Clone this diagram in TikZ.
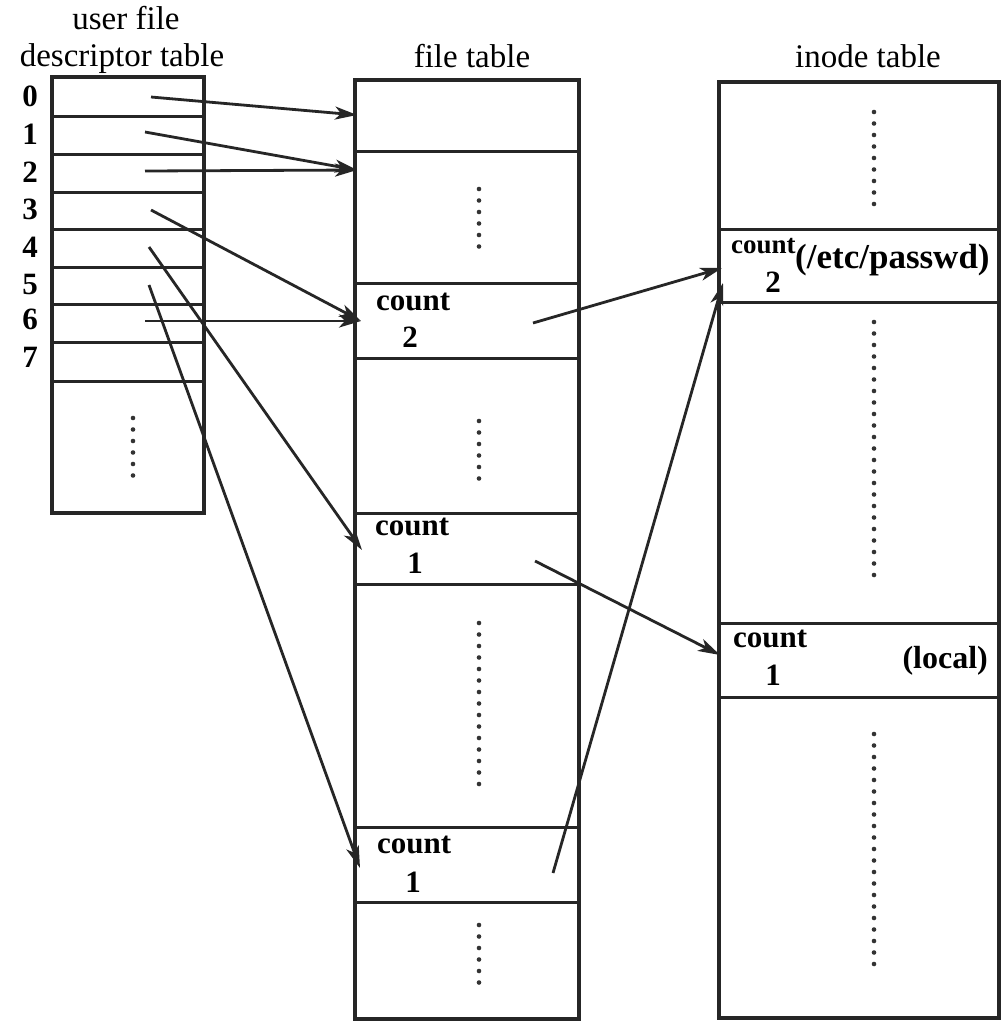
\documentclass[tikz,border=0pt]{standalone}
\usepackage{fontspec}
\setmainfont{Liberation Serif}
\usetikzlibrary{arrows.meta}
\tikzset{
  tbl/.style={line width=3.2pt, draw=black!85},
  sep/.style={line width=3pt, draw=black!85},
  dots/.style={line width=4.6pt, line cap=round, dash pattern=on 0pt off 11.5pt, draw=black!80},
  link/.style={line width=2.8pt, draw=black!85, -{Stealth[length=22pt,width=13pt,inset=6pt]}},
  ttl/.style={inner sep=0pt, anchor=base, font=\fontsize{33}{36}\selectfont},
  idx/.style={inner sep=0pt, font=\bfseries\fontsize{31}{34}\selectfont},
  cnt/.style={inner sep=0pt, anchor=base west, font=\bfseries\fontsize{31}{34}\selectfont},
  num/.style={inner sep=0pt, anchor=base, font=\bfseries\fontsize{31}{34}\selectfont},
}
\begin{document}
\begin{tikzpicture}[x=1pt,y=-1pt]
\useasboundingbox (0,0) rectangle (1001,1021);
\fill[white] (0,0) rectangle (1001,1021);

% titles
\node[ttl] (t1) at (126,29) {user file};
\node[ttl] (t2) at (122,66) {descriptor table};
\node[ttl] (t3) at (472,67) {file table};
\node[ttl] (t4) at (868,67) {inode table};

% user file descriptor table
\draw[tbl] (52,77) rectangle (204,513);
\foreach \y in {116,154,192,229,267,304,342,381} \draw[sep] (52,\y) -- (204,\y);
\draw[dots] (133,418) -- (133,478);
\foreach \i/\y in {0/96,1/134,2/172,3/209,4/247,5/284,6/319,7/357}
  \node[idx] (d\i) at (30,\y) {\i};

% file table
\draw[tbl] (355,80) rectangle (579,1019);
\foreach \y in {151,283,358,513,584,827,902} \draw[sep] (355,\y) -- (579,\y);
\draw[dots] (479,189) -- (479,247);
\draw[dots] (479,421) -- (479,479);
\draw[dots] (479,623) -- (479,795);
\draw[dots] (479,925) -- (479,983);
\node[cnt] (fc2) at (376,310) {count};
\node[num] (fn2) at (410,347) {2};
\node[cnt] (fc1a) at (375,535) {count};
\node[num] (fn1a) at (415,573) {1};
\node[cnt] (fc1b) at (377,853) {count};
\node[num] (fn1b) at (413,892) {1};

% inode table
\draw[tbl] (999,82) -- (719,82) -- (719,1018) -- (999,1018) -- cycle;
\foreach \y in {229,302,623,697} \draw[sep] (719,\y) -- (999,\y);
\draw[dots] (874,112) -- (874,210);
\draw[dots] (874,322) -- (874,586);
\draw[dots] (874,734) -- (874,964);
\node[inner sep=0pt, anchor=base west, font=\bfseries\fontsize{27}{30}\selectfont] (ic2) at (731,253) {count};
\node[num] (in2) at (773,292) {2};
\node[inner sep=0pt, anchor=base west, font=\bfseries\fontsize{35}{38}\selectfont] (ipw) at (795,268) {(/etc/passwd)};
\node[cnt] (ic1) at (733,647) {count};
\node[num] (in1) at (773,685) {1};
\node[inner sep=0pt, anchor=base east, font=\bfseries\fontsize{32}{34}\selectfont] (iloc) at (988,668) {(local)};

% connector end points
\coordinate (s0) at (151,97);
\coordinate (s1) at (145,132);
\coordinate (s2) at (145,171);
\coordinate (s3) at (151,210);
\coordinate (s4) at (149,247);
\coordinate (s5) at (149,285);
\coordinate (s6) at (145,321);
\coordinate (e0) at (357,115);
\coordinate (e12) at (357,170);
\coordinate (e36) at (361,321);
\coordinate (e4) at (362,550);
\coordinate (e5) at (360,868);
\coordinate (a2) at (533,323);
\coordinate (a1) at (535,561);
\coordinate (a1b) at (553,873);
\coordinate (ipin) at (722,268);
\coordinate (ipin2) at (723,283);
\coordinate (ilin) at (720,655);

% connectors
\draw[link] (s0) -- (e0);
\draw[link] (s1) -- (e12);
\draw[link] (s2) -- (e12);
\draw[link] (s3) -- (e36);
\draw[link] (s6) -- (e36);
\draw[link] (s4) -- (e4);
\draw[link] (s5) -- (e5);
\draw[link] (a2) -- (ipin);
\draw[link] (a1) -- (ilin);
\draw[link] (a1b) -- (ipin2);
\end{tikzpicture}
\end{document}
